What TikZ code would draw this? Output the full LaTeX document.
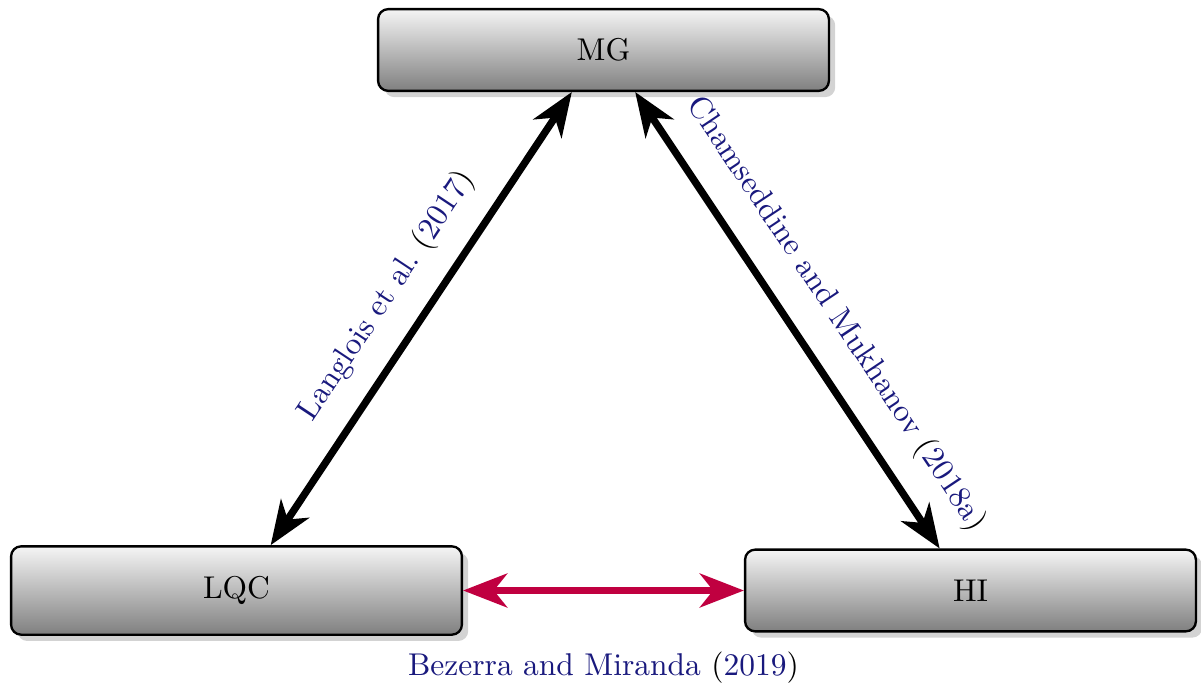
\documentclass[tikz,border=0pt]{standalone}
\usetikzlibrary{arrows.meta,shadows}
\definecolor{citeblue}{RGB}{25,25,125}
\definecolor{linkred}{RGB}{192,0,64}
\newcommand{\refcite}[2]{\textcolor{citeblue}{#1} (\textcolor{citeblue}{#2})}
\frenchspacing
\begin{document}
\begin{tikzpicture}[
    font=\fontsize{10.75}{13}\selectfont,
    block/.style={draw, thick, rounded corners=0.12cm, top color=gray!8, bottom color=gray,
        minimum width=5.41cm, minimum height=0.98cm, drop shadow={opacity=0.35}},
    link/.style={<->, >={Stealth[length=15pt,width=11.5pt,inset=4.5pt]}, line width=2.5pt}
]
    \useasboundingbox (0,0) rectangle (14.412,8.184);

    \node[block] (MG) at (7.242,7.584) {MG};
    \node[block, minimum height=1.06cm] (LQC) at (2.838,1.098) {LQC};
    \node[block] (HI) at (11.646,1.098) {HI};

    \draw[link] ([xshift=0.41cm]LQC.north) to node[midway, sloped, above=4pt] {\refcite{Langlois et al.}{2017}} ([xshift=-0.38cm]MG.south);
    \draw[link] ([xshift=0.38cm]MG.south) to node[pos=0.54, sloped, above=5pt] {\refcite{Chamseddine and Mukhanov}{2018a}} ([xshift=-0.37cm]HI.north);
    \draw[link, linkred] (LQC.east) to node[below=16.5pt, text=black] {\refcite{Bezerra and Miranda}{2019}} (HI.west);
\end{tikzpicture}
\end{document}
